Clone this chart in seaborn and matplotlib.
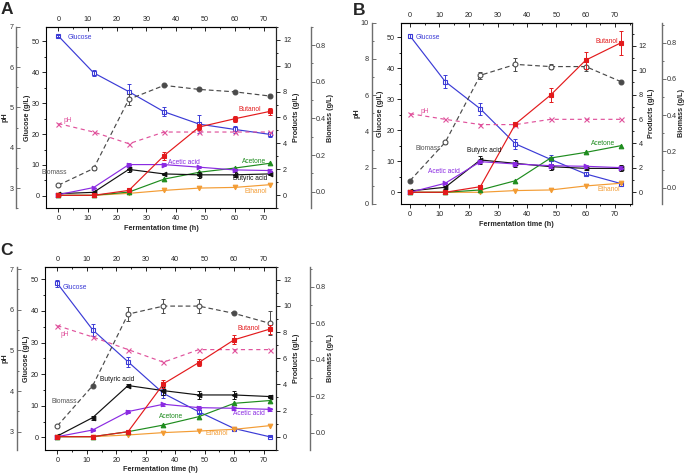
import numpy as np
import matplotlib
matplotlib.use("Agg")
import matplotlib.pyplot as plt
import seaborn as sns
from matplotlib.ticker import MultipleLocator, FormatStrFormatter

sns.set_style("ticks")
plt.rcParams["font.family"] = ["Liberation Sans", "DejaVu Sans"]

time = [0, 12, 24, 36, 48, 60, 72]

# ---------------- Panel A ----------------
A_glucose = [51.7, 39.8, 33.7, 27.2, 23.2, 21.5, 19.9]
A_glucose_err = [0.3, 1.0, 2.5, 1.5, 2.8, 1.0, 0.8]
A_butanol = [0.0, 0.0, 0.38, 3.06, 5.27, 5.9, 6.47]
A_butanol_err = [0, 0, 0.05, 0.3, 0.2, 0.25, 0.25]
A_acetic = [0.05, 0.6, 2.37, 2.37, 2.17, 1.96, 1.91]
A_acetic_err = [0, 0, 0.1, 0.1, 0.1, 0.1, 0.1]
A_butyric = [0.13, 0.23, 2.0, 1.65, 1.58, 1.58, 1.65]
A_butyric_err = [0.05, 0.05, 0.2, 0.1, 0.25, 0.2, 0.1]
A_acetone = [0.0, 0.0, 0.25, 1.25, 1.78, 2.1, 2.47]
A_ethanol = [0.0, 0.0, 0.15, 0.38, 0.56, 0.61, 0.82]
A_biomass = [0.036, 0.127, 0.504, 0.58, 0.558, 0.545, 0.522]
A_biomass_err = [0, 0.01, 0.03, 0, 0, 0, 0]
A_biomass_open = [True, True, True, False, False, False, False]
A_ph = [4.6, 4.39, 4.1, 4.39, 4.39, 4.39, 4.39]

# ---------------- Panel B ----------------
B_glucose = [50.4, 35.7, 26.9, 15.6, 10.6, 5.9, 2.8]
B_glucose_err = [0.5, 2.0, 2.0, 1.5, 1.5, 0.5, 0.3]
B_butanol = [0.0, 0.0, 0.46, 5.6, 7.97, 10.83, 12.25]
B_butanol_err = [0, 0, 0.1, 0.1, 0.6, 0.7, 1.0]
B_acetic = [0.0, 0.74, 2.51, 2.32, 2.18, 2.13, 2.02]
B_acetic_err = [0, 0.1, 0.15, 0.15, 0.15, 0.1, 0.1]
B_butyric = [0.11, 0.41, 2.65, 2.37, 2.1, 1.96, 1.96]
B_butyric_err = [0.05, 0.1, 0.35, 0.3, 0.25, 0.15, 0.25]
B_acetone = [0.0, 0.0, 0.19, 0.95, 2.81, 3.27, 3.82]
B_ethanol = [0.0, 0.0, 0.0, 0.14, 0.19, 0.52, 0.74]
B_biomass = [0.039, 0.25, 0.62, 0.68, 0.668, 0.668, 0.585]
B_biomass_err = [0, 0.01, 0.02, 0.035, 0.015, 0.025, 0]
B_biomass_open = [False, True, True, True, True, True, False]
B_ph = [4.98, 4.67, 4.38, 4.38, 4.67, 4.67, 4.67]

# ---------------- Panel C ----------------
C_glucose = [48.7, 34.0, 23.9, 13.9, 8.1, 2.8, 0.2]
C_glucose_err = [1.0, 2.0, 1.5, 1.5, 0.5, 0.3, 0.2]
C_butanol = [0.0, 0.0, 0.38, 4.04, 5.67, 7.41, 8.22]
C_butanol_err = [0, 0, 0.05, 0.3, 0.3, 0.35, 0.35]
C_acetic = [0.0, 0.51, 1.92, 2.48, 2.22, 2.17, 2.09]
C_acetic_err = [0, 0.05, 0.1, 0.1, 0.1, 0.1, 0.1]
C_butyric = [0.05, 1.46, 3.91, 3.52, 3.19, 3.19, 3.07]
C_butyric_err = [0.05, 0.15, 0.1, 0.3, 0.3, 0.3, 0.15]
C_acetone = [0.0, 0.0, 0.38, 0.89, 1.53, 2.55, 2.76]
C_ethanol = [0.0, 0.0, 0.13, 0.31, 0.43, 0.56, 0.84]
C_biomass = [0.037, 0.258, 0.65, 0.694, 0.694, 0.654, 0.6]
C_biomass_err = [0, 0, 0.04, 0.04, 0.04, 0, 0.065]
C_biomass_open = [True, False, True, True, True, False, True]
C_ph = [5.61, 5.33, 5.02, 4.71, 5.02, 5.02, 5.02]

COL = dict(glucose="#3b3bd6", butanol="#e31a1c", acetic="#8b2be2",
           butyric="#111111", acetone="#1e8c1e", ethanol="#f39c34",
           biomass="#4a4a4a", ph="#e0529c")
SPINE_GRAY = "#6e6e6e"
FS = 5.2
LFS = 5.2
TS = 4.8

W, H = 685, 473
fig = plt.figure(figsize=(W / 100, H / 100), dpi=100)


def px2fig(x, y):
    return x / W, 1 - y / H


def series(ax, y, color, marker, err=None, ls="-", mfc=None, ms=3.3, zo=3):
    sns.lineplot(x=time, y=y, ax=ax, color=color, linestyle=ls, linewidth=0.85,
                 marker=marker, markersize=ms,
                 markerfacecolor=(mfc if mfc is not None else color),
                 markeredgecolor=color, markeredgewidth=0.8, zorder=zo)
    if err is not None:
        idx = [i for i, e in enumerate(err) if e > 0]
        ax.errorbar([time[i] for i in idx], [y[i] for i in idx],
                    yerr=[err[i] for i in idx], fmt="none", ecolor=color,
                    elinewidth=0.7, capsize=1.5, capthick=0.7, zorder=zo)


def biomass_series(ax, y, err, is_open, color):
    sns.lineplot(x=time, y=y, ax=ax, color=color, linestyle=(0, (4, 2.5)),
                 linewidth=0.85, zorder=2)
    idx = [i for i, e in enumerate(err) if e > 0]
    ax.errorbar([time[i] for i in idx], [y[i] for i in idx],
                yerr=[err[i] for i in idx], fmt="none", ecolor=color,
                elinewidth=0.7, capsize=1.5, capthick=0.7, zorder=2)
    to = [t for t, o in zip(time, is_open) if o]
    yo = [v for v, o in zip(y, is_open) if o]
    tf = [t for t, o in zip(time, is_open) if not o]
    yf = [v for v, o in zip(y, is_open) if not o]
    if to:
        sns.lineplot(x=to, y=yo, ax=ax, linestyle="none", marker="o",
                     markersize=3.5, markerfacecolor="white",
                     markeredgecolor=color, markeredgewidth=0.8, zorder=3)
    if tf:
        sns.lineplot(x=tf, y=yf, ax=ax, linestyle="none", marker="o",
                     markersize=3.5, markerfacecolor=color,
                     markeredgecolor=color, markeredgewidth=0.8, zorder=3)


def build(box, xlim, glim, plim, phlim, blim, ph_major, ph_minor,
          ph_off, b_off):
    l, t, r, b = box
    ax = fig.add_axes([l / W, 1 - b / H, (r - l) / W, (b - t) / H])
    axph = ax.twinx()
    axb = ax.twinx()
    axp = ax.twinx()

    ax.set_xlim(*xlim)
    ax.set_ylim(*glim)
    axp.set_ylim(*plim)
    axph.set_ylim(*phlim)
    axb.set_ylim(*blim)

    # main axes frame
    for s in ax.spines.values():
        s.set_visible(True)
        s.set_linewidth(0.8)
        s.set_color("black")
    ax.xaxis.set_major_locator(MultipleLocator(10))
    ax.xaxis.set_minor_locator(MultipleLocator(5))
    ax.yaxis.set_major_locator(MultipleLocator(10))
    ax.yaxis.set_minor_locator(MultipleLocator(5))
    ax.tick_params(axis="x", which="both", top=False, labeltop=False,
                   bottom=True, labelbottom=True, direction="out",
                   labelsize=FS, pad=2, width=0.7)
    ax.tick_params(axis="y", which="both", direction="out", labelsize=FS,
                   pad=1.6, width=0.7)
    ax.tick_params(which="major", length=3)
    ax.tick_params(which="minor", length=1.6)
    ax.set_xlabel("")
    ax.set_ylabel("")

    # top axis with inward ticks
    sec = ax.secondary_xaxis("top")
    sec.xaxis.set_major_locator(MultipleLocator(10))
    sec.xaxis.set_minor_locator(MultipleLocator(5))
    sec.tick_params(axis="x", which="both", direction="in", labelsize=FS,
                    pad=2.5, width=0.7)
    sec.tick_params(which="major", length=3)
    sec.tick_params(which="minor", length=1.6)
    sec.spines["top"].set_linewidth(0.8)

    # products axis (right frame)
    for k in ("left", "top", "bottom"):
        axp.spines[k].set_visible(False)
    axp.spines["right"].set_linewidth(0.8)
    axp.yaxis.set_major_locator(MultipleLocator(2))
    axp.yaxis.set_minor_locator(MultipleLocator(1))
    axp.tick_params(axis="y", which="both", direction="out", labelsize=FS,
                    pad=2, width=0.7)
    axp.tick_params(which="major", length=3)
    axp.tick_params(which="minor", length=1.6)
    axp.set_ylabel("")

    # pH axis (offset left, inward ticks)
    for k in ("right", "top", "bottom"):
        axph.spines[k].set_visible(False)
    axph.spines["left"].set_visible(True)
    axph.spines["left"].set_position(("outward", ph_off * 0.72))
    axph.spines["left"].set_color(SPINE_GRAY)
    axph.spines["left"].set_linewidth(1.0)
    axph.yaxis.set_ticks_position("left")
    axph.yaxis.set_label_position("left")
    axph.yaxis.set_major_locator(MultipleLocator(ph_major))
    axph.yaxis.set_minor_locator(MultipleLocator(ph_minor))
    axph.tick_params(axis="y", which="both", direction="in", labelsize=FS,
                     pad=2, width=0.7, color=SPINE_GRAY, labelcolor="#333333")
    axph.tick_params(which="major", length=3)
    axph.tick_params(which="minor", length=1.6)
    axph.set_ylabel("")

    # biomass axis (offset right)
    for k in ("left", "top", "bottom"):
        axb.spines[k].set_visible(False)
    axb.spines["right"].set_position(("outward", b_off * 0.72))
    axb.spines["right"].set_color(SPINE_GRAY)
    axb.spines["right"].set_linewidth(1.0)
    axb.yaxis.set_major_locator(MultipleLocator(0.2))
    axb.yaxis.set_minor_locator(MultipleLocator(0.1))
    axb.yaxis.set_major_formatter(FormatStrFormatter("%.1f"))
    axb.tick_params(axis="y", which="both", direction="out", labelsize=FS,
                    pad=1.3, width=0.7, color=SPINE_GRAY, labelcolor="#333333")
    axb.tick_params(which="major", length=2.6)
    axb.tick_params(which="minor", length=1.5)
    axb.set_ylabel("")
    return ax, axp, axph, axb


def draw(axes, glu, glu_e, but, but_e, ace_acid, ace_acid_e, buty, buty_e,
         acetone, ethanol, bio, bio_e, bio_open, ph):
    ax, axp, axph, axb = axes
    series(axph, ph, COL["ph"], "x", ls=(0, (3.5, 3)), ms=3.6, zo=2)
    biomass_series(axb, bio, bio_e, bio_open, COL["biomass"])
    series(ax, glu, COL["glucose"], "s", err=glu_e, mfc="white")
    series(axp, ethanol, COL["ethanol"], "v")
    series(axp, acetone, COL["acetone"], "^")
    series(axp, buty, COL["butyric"], "<", err=buty_e)
    series(axp, ace_acid, COL["acetic"], ">", err=ace_acid_e)
    series(axp, but, COL["butanol"], "s", err=but_e)
    for a in axes:
        a.set_xlabel("")
        a.set_ylabel("")


def ylabels(xs, yc, names):
    for x, name in zip(xs, names):
        fx, fy = px2fig(x, yc)
        fig.text(fx, fy, name, rotation=90, ha="center", va="center",
                 fontsize=LFS, fontweight="bold")


def xlabel(xc, y):
    fx, fy = px2fig(xc, y)
    fig.text(fx, fy, "Fermentation time (h)", ha="center", va="center",
             fontsize=LFS, fontweight="bold")


def letter(x, y, s):
    fx, fy = px2fig(x, y)
    fig.text(fx, fy, s, ha="left", va="baseline", fontsize=12.5,
             fontweight="bold")


names = ["pH", "Glucose (g/L)", "Products (g/L)", "Biomass (g/L)"]

# ---- A ----
axA = build((46, 26.7, 276, 208.3), (-4.2, 74.1), (-4, 54.7), (-1, 13),
            (2.5, 7.0), (-0.09, 0.9), 1, 0.5, 29.5, 34.7)
draw(axA, A_glucose, A_glucose_err, A_butanol, A_butanol_err, A_acetic,
     A_acetic_err, A_butyric, A_butyric_err, A_acetone, A_ethanol,
     A_biomass, A_biomass_err, A_biomass_open, A_ph)
ax, axp, axph, axb = axA
ax.text(3.0, 51.2, "Glucose", color=COL["glucose"], fontsize=TS, va="center")
axph.text(1.6, 4.68, "pH", color=COL["ph"], fontsize=TS, va="center")
axb.text(-1.5, 0.105, "Biomass", color="#555555", fontsize=TS, va="center", ha="center")
axp.text(37.5, 2.55, "Acetic acid", color=COL["acetic"], fontsize=TS, va="center")
axp.text(70.8, 2.62, "Acetone", color=COL["acetone"], fontsize=TS, va="center", ha="right")
axp.text(71.0, 1.27, "Butyric acid", color=COL["butyric"], fontsize=TS, va="center", ha="right")
axp.text(71.0, 0.3, "Ethanol", color=COL["ethanol"], fontsize=TS, va="center", ha="right")
axp.text(69.0, 6.62, "Butanol", color=COL["butanol"], fontsize=TS, va="center", ha="right")
ylabels([5, 27.5, 296.7, 330.5], 117.5, names)
xlabel(161, 229)
letter(0.5, 14.5, "A")

# ---- B ----
axB = build((401, 22.7, 631.7, 204), (-3.1, 75.7), (-3.8, 54.7),
            (-0.96, 13.9), (0.0, 10.0), (-0.09, 0.91), 2, 1, 29.3, 30)
draw(axB, B_glucose, B_glucose_err, B_butanol, B_butanol_err, B_acetic,
     B_acetic_err, B_butyric, B_butyric_err, B_acetone, B_ethanol,
     B_biomass, B_biomass_err, B_biomass_open, B_ph)
ax, axp, axph, axb = axB
ax.text(2.0, 49.9, "Glucose", color=COL["glucose"], fontsize=TS, va="center")
axp.text(71.0, 12.4, "Butanol", color=COL["butanol"], fontsize=TS, va="center", ha="right")
axph.text(3.4, 5.1, "pH", color=COL["ph"], fontsize=TS, va="center")
axb.text(1.7, 0.217, "Biomass", color="#555555", fontsize=TS, va="center")
axp.text(25.2, 3.4, "Butyric acid", color=COL["butyric"], fontsize=TS, va="center", ha="center")
axp.text(11.4, 1.7, "Acetic acid", color=COL["acetic"], fontsize=TS, va="center", ha="center")
axp.text(70.0, 3.96, "Acetone", color=COL["acetone"], fontsize=TS, va="center", ha="right")
axp.text(71.7, 0.25, "Ethanol", color=COL["ethanol"], fontsize=TS, va="center", ha="right")
ylabels([357, 380.5, 651.7, 681.3], 113.4, names)
xlabel(516, 224)
letter(352.5, 15, "B")

# ---- C ----
axC = build((45, 266.7, 276, 450), (-4.2, 74.2), (-4, 54), (-1.02, 13.0),
            (2.55, 7.06), (-0.095, 0.91), 1, 0.5, 28.3, 34)
draw(axC, C_glucose, C_glucose_err, C_butanol, C_butanol_err, C_acetic,
     C_acetic_err, C_butyric, C_butyric_err, C_acetone, C_ethanol,
     C_biomass, C_biomass_err, C_biomass_open, C_ph)
ax, axp, axph, axb = axC
ax.text(1.8, 47.4, "Glucose", color=COL["glucose"], fontsize=TS, va="center")
axph.text(0.9, 5.38, "pH", color=COL["ph"], fontsize=TS, va="center")
axp.text(68.9, 8.3, "Butanol", color=COL["butanol"], fontsize=TS, va="center", ha="right")
axp.text(20.3, 4.39, "Butyric acid", color=COL["butyric"], fontsize=TS, va="center", ha="center")
axb.text(2.2, 0.17, "Biomass", color="#555555", fontsize=TS, va="center", ha="center")
axp.text(38.5, 1.53, "Acetone", color=COL["acetone"], fontsize=TS, va="center", ha="center")
axp.text(65.0, 1.79, "Acetic acid", color=COL["acetic"], fontsize=TS, va="center", ha="center")
axp.text(54.1, 0.26, "Ethanol", color=COL["ethanol"], fontsize=TS, va="center", ha="center")
ylabels([5, 26.8, 296.7, 330], 358.4, names)
xlabel(160, 469)
letter(0.0, 255, "C")

fig.savefig("out.png", dpi=100)
